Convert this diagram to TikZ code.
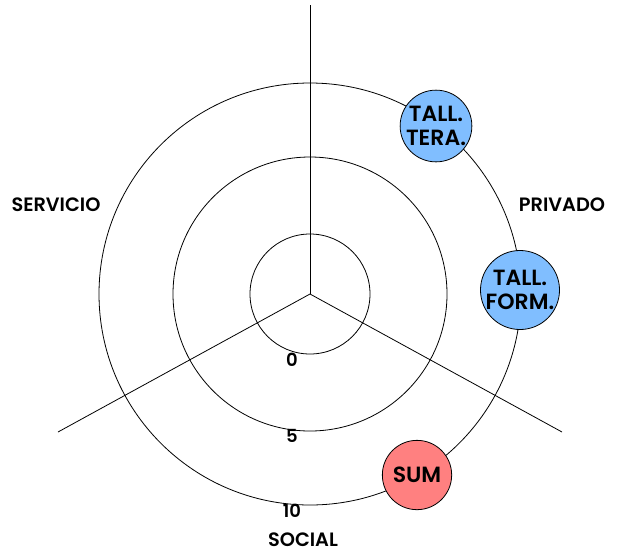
\documentclass[tikz,border=0pt]{standalone}
\usepackage{fontspec}
\setmainfont{Poppins SemiBold}
\begin{document}
\begin{tikzpicture}[x=0.75pt,y=-0.75pt,
  lbl/.style={font=\fontsize{14.5}{16}\selectfont, inner sep=0pt},
  num/.style={font=\fontsize{13.5}{14}\selectfont, inner sep=0pt},
  blob/.style={circle, draw=black, line width=0.6pt, minimum size=49.5pt, inner sep=0pt, align=center, font=\fontsize{16.5}{18}\selectfont},
  blue/.style={blob, fill={rgb,255:red,128;green,190;blue,255}},
  redb/.style={blob, fill={rgb,255:red,255;green,128;blue,128}, minimum size=52pt},
  ring/.style={draw=black, line width=0.6pt},
  spoke/.style={draw=black, line width=0.6pt}]
\useasboundingbox (0,0) rectangle (623,554);
\coordinate (c) at (310,294);
\coordinate (top) at (310,5);
\coordinate (ll) at (58,432);
\coordinate (lr) at (562,432);
\draw[ring] (c) circle[radius=45pt];
\draw[ring] (c) circle[radius=102.75pt];
\draw[ring] (c) circle[radius=158.25pt];
\draw[spoke] (c) -- (top);
\draw[spoke] (c) -- (ll);
\draw[spoke] (c) -- (lr);
\node[lbl] (serv) at (56,205) {SERVICIO};
\node[lbl] (priv) at (562,205) {PRIVADO};
\node[lbl] (soc) at (303,540) {SOCIAL};
\node[num] (n0) at (292,360) {0};
\node[num] (n5) at (292,436) {5};
\node[num] (n10) at (292,511) {10};
\node[blue] (tera) at (436,126) {TALL.\\TERA.};
\node[blue] (form) at (520,290) {TALL.\\FORM.};
\node[redb] (sum) at (417,475) {SUM};
\end{tikzpicture}
\end{document}
